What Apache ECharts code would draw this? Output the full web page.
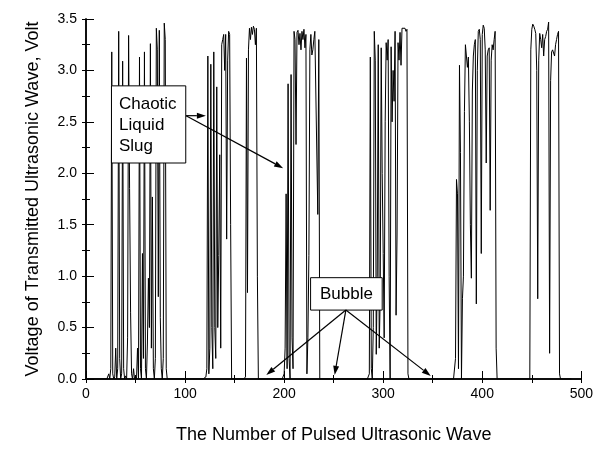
<!DOCTYPE html>
<html><head><meta charset="utf-8">
<script src="https://cdn.jsdelivr.net/npm/echarts@6/dist/echarts.min.js"></script>
<style>html,body{margin:0;padding:0;background:#fff}#c{width:596px;height:449px}</style>
</head><body><div id="c"></div>
<script>
// ---- data ----
const xTickLabels = [0, 100, 200, 300, 400, 500];
const yTickLabels = ['0.0','0.5','1.0','1.5','2.0','2.5','3.0','3.5'];
const lastIndex = 490;
// bursts of chaotic liquid slug: start index + consecutive values (Volt)
const burst1Start = 22;
const burst1 = [0,0.05,0,0.1,3.18,0.05,0,0.02,0.3,0,0.1,3.38,0.2,0,0.05,3.09,0.1,0,0.03,0,0.4,3.34,1.85,0.65,0.05,0,0.1,0,0.02,0,0.3,0,3.13,0.1,0,1.22,0.2,3.18,0.1,0,0.35,0.98,0.5,3.26,0.3,1.77,0.1,0,0.2,3.41,3.2,0.8,3.39,0.6,0.1,0,0.2,3.46,3.3,0.1,0,0];
const burst2Start = 120;
const burst2 = [0,0.02,0.1,3.14,0.05,0.3,3.06,0.5,0.1,3.18,0.5,0.2,2.84,0.5,1.2,2.18,0.3,3.25,3.3,3.35,3.0,3.35,1.36,3.1,3.38,3.35,1.5,0];
const burst3Start = 160;
const burst3 = [0,0.02,3.12,0.84,3.2,3.41,3.3,3.42,3.35,3.43,3.4,3.25,3.41,1.0,0];
const burst4Start = 199;
const burst4 = [0,0.05,0.3,1.8,0.1,2.87,0.2,0,2.96,0.4,0.1,3.38,3.3,2.28,3.37,3.39,3.25,3.36,3.2,3.38,3.3,3.4,3.22,3.35,0.05,0.4,1.2,3.2,3.35,3.15,3.2,3.3,3.38,3.37,3.38,1.6,3.3,0,0];
const burst5Start = 285;
const burst5 = [0,0.05,3.13,0.1,0,0.5,3.38,3.1,0.24,1.0,3.25,0.3,0.8,3.22,2.0,1.22,0.4,2.5,3.27,3.1,3.3,1.0,0,3.23,2.5,3.0,2.7,3.38,0.62,1.4,3.27,3.1,3.37,3.05,3.41,3.42,3.4,3.41,3.38,3.4,0.05,0];
const burst6Start = 372;
const burst6 = [0,0.2,1.94,1.8,0.1,3.05,2.2,0,0.78,1.0,2.6,3.25,3.26,3.03,3.13,2.5,1.5,0.98,2.8,3.14,3.25,3.3,0.73,3.0,3.38,3.4,3.3,1.22,3.35,3.44,3.41,3.2,2.1,3.14,3.2,3.22,1.64,3.1,3.25,3.2,3.3,3.38,0.3,0];
const burst7Start = 448;
const burst7 = [0,3.2,3.4,3.45,3.43,3.4,3.36,3.0,0.78,3.1,3.36,3.3,3.22,3.35,3.14,3.3,3.33,3.38,3.4,3.47,0.25,2.9,3.18,3.2,3.19,3.14,3.25,3.3,3.35,3.38,0.05,0];

// annotation anchors in data coordinates
const slugBox = {x0: 25.7, y0: 2.85, x1: 100.7, y1: 2.10, lines: ['Chaotic','Liquid','Slug']};
const slugArrowFrom = [101, 2.56];
const slugArrowTo = [[121, 2.56], [199, 2.05]];
const bubbleBox = {x0: 226.7, y0: 0.985, x1: 299, y1: 0.67, text: 'Bubble'};
const bubbleArrowFrom = [262.3, 0.67];
const bubbleArrowTo = [[182, 0.04], [251, 0.04], [348, 0.03]];

// ---- build series ----
const bursts = [[burst1Start,burst1],[burst2Start,burst2],[burst3Start,burst3],[burst4Start,burst4],[burst5Start,burst5],[burst6Start,burst6],[burst7Start,burst7]];
const values = new Array(lastIndex + 1).fill(0);
bursts.forEach(([s, arr]) => arr.forEach((v, i) => { values[s + i] = v; }));
const seriesData = values.map((v, i) => [i, v]);

const FONT = 'Liberation Sans, Arial, sans-serif';
const chart = echarts.init(document.getElementById('c'), null, {renderer: 'canvas'});
const axisLine = {show: true, lineStyle: {color: '#000', width: 1.5}};
chart.setOption({
  animation: false,
  backgroundColor: '#fff',
  grid: {left: 86, top: 19, width: 500, height: 366, containLabel: false},
  xAxis: [{
    type: 'value', min: 0, max: 500, interval: 100, position: 'bottom',
    axisLine: axisLine,
    axisTick: {show: true, inside: true, length: 8, lineStyle: {color: '#000', width: 1}},
    minorTick: {show: true, splitNumber: 2, length: 4, lineStyle: {color: '#000', width: 1}},
    splitLine: {show: false},
    axisLabel: {color: '#000', fontFamily: FONT, fontSize: 14, margin: 8,
      formatter: v => xTickLabels.includes(v) ? String(v) : ''},
    name: 'The Number of Pulsed Ultrasonic Wave', nameLocation: 'middle', nameGap: 47,
    nameTextStyle: {color: '#000', fontFamily: FONT, fontSize: 18}
  }, {
    type: 'value', min: 0, max: 500, interval: 50, position: 'top',
    axisLine: axisLine,
    axisTick: {show: true, inside: true, length: 4, lineStyle: {color: '#000', width: 1}},
    axisLabel: {show: false}, splitLine: {show: false}
  }],
  yAxis: [{
    type: 'value', min: 0, max: 3.5, interval: 0.5, position: 'left',
    axisLine: axisLine,
    axisTick: {show: true, inside: true, length: 8, lineStyle: {color: '#000', width: 1}},
    minorTick: {show: true, splitNumber: 2, length: 4, lineStyle: {color: '#000', width: 1}},
    splitLine: {show: false},
    axisLabel: {color: '#000', fontFamily: FONT, fontSize: 14, margin: 9,
      formatter: v => yTickLabels[Math.round(v / 0.5)]},
    name: 'Voltage of Transmitted Ultrasonic Wave, Volt', nameLocation: 'middle', nameGap: 44,
    nameTextStyle: {color: '#000', fontFamily: FONT, fontSize: 18}
  }, {
    type: 'value', min: 0, max: 3.5, interval: 0.25, position: 'right',
    axisLine: axisLine,
    axisTick: {show: true, inside: true, length: 4, lineStyle: {color: '#000', width: 1}},
    axisLabel: {show: false}, splitLine: {show: false}
  }],
  series: [{
    type: 'line', xAxisIndex: 0, yAxisIndex: 0, data: seriesData,
    showSymbol: false, symbol: 'none',
    lineStyle: {color: '#000', width: 1}
  }]
});

// ---- annotations ----
const px = p => chart.convertToPixel({gridIndex: 0}, p);
function arrow(from, to) {
  const a = px(from), b = px(to);
  const dx = b[0] - a[0], dy = b[1] - a[1], L = Math.hypot(dx, dy);
  const ux = dx / L, uy = dy / L, hl = 9, hw = 3;
  const bx = b[0] - ux * hl, by = b[1] - uy * hl;
  return [
    {type: 'line', shape: {x1: a[0], y1: a[1], x2: bx, y2: by}, style: {stroke: '#000', lineWidth: 1.2}, z: 100},
    {type: 'polygon', shape: {points: [[b[0], b[1]], [bx - uy * hw, by + ux * hw], [bx + uy * hw, by - ux * hw]]}, style: {fill: '#000'}, z: 100}
  ];
}
const g = [];
const s0 = px([slugBox.x0, slugBox.y0]), s1 = px([slugBox.x1, slugBox.y1]);
g.push({type: 'rect', shape: {x: s0[0], y: s0[1], width: s1[0] - s0[0], height: s1[1] - s0[1]},
  style: {fill: '#fff', stroke: '#000', lineWidth: 1}, z: 100});
g.push({type: 'text', x: s0[0] + 7.5, y: s0[1] + 8, z: 101,
  style: {text: slugBox.lines.join('\n'), font: '17px ' + FONT, fill: '#000', lineHeight: 21, verticalAlign: 'top', align: 'left'}});
slugArrowTo.forEach(t => g.push(...arrow(slugArrowFrom, t)));
const b0 = px([bubbleBox.x0, bubbleBox.y0]), b1 = px([bubbleBox.x1, bubbleBox.y1]);
g.push({type: 'rect', shape: {x: b0[0], y: b0[1], width: b1[0] - b0[0], height: b1[1] - b0[1]},
  style: {fill: '#fff', stroke: '#000', lineWidth: 1}, z: 100});
g.push({type: 'text', x: (b0[0] + b1[0]) / 2, y: (b0[1] + b1[1]) / 2, z: 101,
  style: {text: bubbleBox.text, font: '17px ' + FONT, fill: '#000', verticalAlign: 'middle', align: 'center'}});
bubbleArrowTo.forEach(t => g.push(...arrow(bubbleArrowFrom, t)));
chart.setOption({graphic: g});
</script></body></html>
